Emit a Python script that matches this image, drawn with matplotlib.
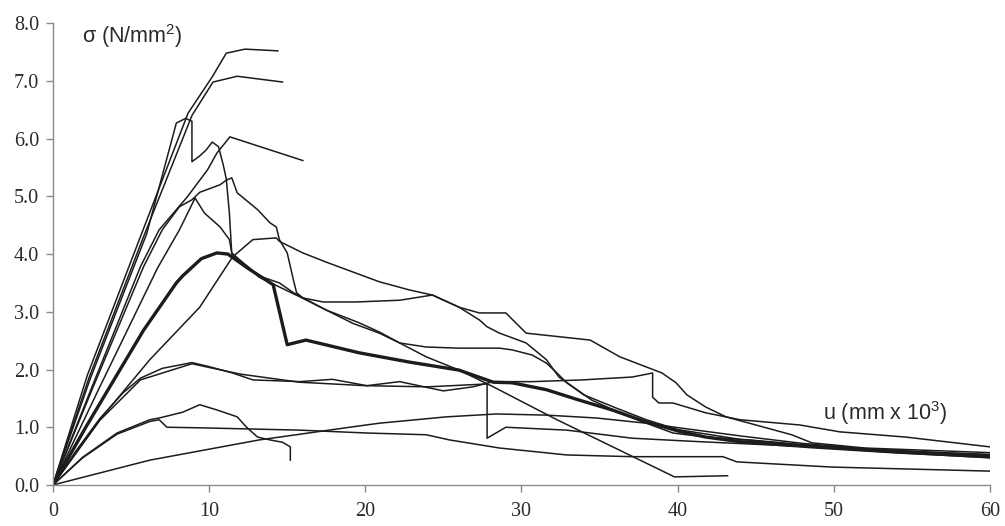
import matplotlib
matplotlib.use("Agg")
import matplotlib.pyplot as plt

plt.rcParams['mathtext.fontset'] = 'custom'
plt.rcParams['mathtext.rm'] = 'Liberation Sans'
plt.rcParams['mathtext.it'] = 'Liberation Sans'

# --- curves: u (mm x 10^3) vs sigma (N/mm^2) ---
# steep bundle, plateau at 7.5
a_u = [0, 2.2, 5.6, 8.65, 10.2, 11.1, 12.3, 14.4]
a_s = [0, 1.9, 4.3, 6.44, 7.07, 7.48, 7.55, 7.52]

# plateau at 7.0
b_u = [0, 2.3, 5.8, 8.9, 10.25, 11.8, 14.7]
b_s = [0, 1.85, 4.3, 6.4, 6.98, 7.08, 6.98]

# peak 6.3, drop, then runs along the thick curve and the 2.4 shelf
c_u = [0, 2.4, 6.0, 7.9, 8.5, 8.9, 8.9, 9.4, 9.8, 10.2, 10.6, 10.9, 11.1, 11.3,
       11.45, 12.5, 13.2, 14.5, 15.4, 17.5, 19.6, 20.9, 22.2, 23.9, 26.0, 28.6,
       29.4, 30.7, 31.6, 32.2, 32.9, 34.0, 36.0, 38.0, 40.0, 44.0, 48.0, 52.0,
       56.0, 60.0]
c_s = [0, 1.85, 4.35, 6.27, 6.35, 6.3, 5.6, 5.7, 5.8, 5.94, 5.86, 5.55, 5.3, 4.7,
       4.0, 3.78, 3.62, 3.5, 3.33, 3.03, 2.81, 2.65, 2.46, 2.39, 2.37, 2.37,
       2.34, 2.25, 2.11, 1.96, 1.77, 1.56, 1.34, 1.13, 0.96, 0.79, 0.69, 0.61,
       0.56, 0.51]

# peak 5.3, shelf at 3.2, jagged tail
d_u = [0, 2.5, 5.8, 7.0, 8.1, 8.9, 9.4, 10.7, 11.1, 11.45, 11.8, 13.1, 13.9, 14.3,
       14.5, 15.0, 15.4, 15.6, 16.0, 17.3, 19.4, 22.2, 24.3, 26.0, 27.3, 27.8,
       28.6, 30.3, 31.6, 32.4, 33.3, 34.5, 36.3, 38.0, 39.7, 41.8, 44.6, 48.0,
       52.0, 56.0, 60.0]
d_s = [0, 1.65, 3.78, 4.42, 4.82, 4.94, 5.07, 5.2, 5.28, 5.32, 5.06, 4.77, 4.54, 4.47,
       4.25, 4.02, 3.55, 3.33, 3.24, 3.17, 3.17, 3.2, 3.29, 3.08, 2.86, 2.74,
       2.63, 2.46, 2.17, 1.87, 1.7, 1.47, 1.25, 1.07, 0.9, 0.83, 0.78, 0.7,
       0.62, 0.57, 0.52]

# peak 5.0, long straight descent to 0.15
e_u = [0, 3.0, 6.7, 8.1, 9.1, 9.7, 10.7, 11.3, 11.45, 13.2, 15.8, 17.5, 19.2, 20.9,
       22.2, 23.9, 26.0, 28.2, 32.2, 36.0, 39.8, 43.2]
e_s = [0, 1.7, 3.76, 4.42, 4.97, 4.71, 4.47, 4.25, 4.02, 3.6, 3.26, 3.03, 2.8, 2.63,
       2.46, 2.22, 1.99, 1.7, 1.14, 0.64, 0.14, 0.16]

# peak 6.0, short straight softening
f_u = [0, 2.5, 5.6, 6.8, 8.6, 9.9, 10.5, 11.33, 16.0]
f_s = [0, 1.7, 3.78, 4.42, 4.99, 5.46, 5.75, 6.03, 5.62]

# peak 4.25 near u = 14
g_u = [0, 3.0, 6.2, 9.4, 11.5, 12.8, 14.3, 14.5, 16.0, 17.5, 18.8, 20.9, 22.8, 24.3,
       26.0, 27.3, 29.0, 30.3, 34.4, 36.3, 39.0, 39.9, 40.6, 41.8, 43.1, 45.0,
       47.3, 48.6, 52.0, 56.0, 60.0]
g_s = [0, 1.13, 2.17, 3.08, 3.95, 4.25, 4.28, 4.22, 4.02, 3.86, 3.73, 3.52, 3.38, 3.29,
       3.08, 2.98, 2.98, 2.63, 2.51, 2.22, 1.94, 1.77, 1.56, 1.35, 1.18, 1.04,
       0.87, 0.73, 0.64, 0.6, 0.56]

# thick (mean) curve
t_u = [0, 2.1, 4.3, 5.8, 7.9, 8.3, 9.5, 10.5, 11.2, 12.5, 14.1, 15.0, 16.2, 19.6,
       22.8, 26.0, 28.2, 29.4, 31.6, 33.7, 35.8, 38.0, 40.1, 41.8, 44.0, 48.6,
       54.0, 60.0]
t_s = [0, 1.0, 2.0, 2.68, 3.5, 3.62, 3.92, 4.02, 4.0, 3.75, 3.47, 2.43, 2.51, 2.29,
       2.13, 1.99, 1.78, 1.77, 1.65, 1.47, 1.3, 1.09, 0.93, 0.83, 0.75, 0.66,
       0.57, 0.49]

# peak 2.1, shelf at 1.8, top tail at the right
j_u = [0, 1.5, 3.0, 4.5, 5.6, 7.0, 8.9, 10.0, 11.5, 12.8, 15.8, 17.9, 20.1, 22.2,
       25.0, 26.9, 28.2, 30.7, 33.9, 37.1, 38.4, 38.4, 38.8, 39.7, 41.8, 44.0,
       47.8, 50.4, 54.6, 60.0]
j_s = [0, 0.6, 1.15, 1.6, 1.85, 2.02, 2.12, 2.05, 1.94, 1.82, 1.79, 1.83, 1.72, 1.79,
       1.63, 1.7, 1.79, 1.79, 1.82, 1.87, 1.94, 1.52, 1.42, 1.42, 1.25, 1.13,
       1.04, 0.92, 0.83, 0.66]

# shelf at 1.75, sudden drop at u = 27.8
n_u = [0, 3.0, 5.6, 8.9, 12.0, 15.8, 20.0, 24.0, 27.8, 27.8, 29.0, 32.9, 37.1, 41.4,
       48.6, 54.0, 60.0]
n_s = [0, 1.12, 1.82, 2.1, 1.92, 1.78, 1.72, 1.7, 1.75, 0.81, 1.0, 0.95, 0.81, 0.75,
       0.66, 0.56, 0.47]

# peak 1.4, ends at u = 15
k_u = [0, 1.9, 4.1, 6.2, 6.8, 8.3, 9.4, 10.5, 11.8, 12.4, 13.1, 13.9, 14.7, 15.2, 15.2]
k_s = [0, 0.48, 0.9, 1.13, 1.16, 1.26, 1.39, 1.3, 1.18, 1.0, 0.83, 0.78, 0.74, 0.66, 0.43]

# peak 1.1, lowest tail
l_u = [0, 1.9, 4.1, 6.2, 6.8, 7.3, 9.4, 12.6, 15.8, 20.1, 23.9, 25.4, 28.6, 32.9,
       37.1, 42.9, 43.8, 49.9, 60.0]
l_s = [0, 0.47, 0.88, 1.1, 1.13, 1.0, 0.99, 0.97, 0.95, 0.9, 0.87, 0.78, 0.64, 0.52,
       0.49, 0.49, 0.4, 0.31, 0.24]

# soft arc, peak 1.25 near u = 28
m_u = [0, 6.2, 13.2, 19.0, 20.9, 25.2, 28.4, 31.6, 34.8, 38.0, 40.1, 44.0, 48.0,
       52.0, 56.0, 60.0]
m_s = [0, 0.43, 0.78, 1.0, 1.07, 1.18, 1.23, 1.21, 1.16, 1.07, 0.99, 0.85, 0.72,
       0.63, 0.57, 0.53]

thin_curves = [(a_u, a_s), (b_u, b_s), (c_u, c_s), (d_u, d_s), (e_u, e_s),
               (f_u, f_s), (g_u, g_s), (j_u, j_s), (n_u, n_s), (k_u, k_s),
               (l_u, l_s), (m_u, m_s)]

x_ticks = [0, 10, 20, 30, 40, 50, 60]
y_ticks = [0, 1, 2, 3, 4, 5, 6, 7, 8]

fig = plt.figure(figsize=(10.05, 5.26), dpi=100)
ax = fig.add_axes([0.0527, 0.078, 0.9323, 0.878])

ink = '#1c1c1c'
for u, s in thin_curves:
    ax.plot(u, s, color=ink, linewidth=1.1, solid_joinstyle='round')
ax.plot(t_u, t_s, color=ink, linewidth=2.4, solid_joinstyle='round')

ax.set_xlim(0, 60)
ax.set_ylim(0, 8)
ax.set_xticks(x_ticks)
ax.set_yticks(y_ticks)
ax.set_xticklabels([str(v) for v in x_ticks])
ax.set_yticklabels([f"{v:.1f}" for v in y_ticks])

for side in ['top', 'right']:
    ax.spines[side].set_visible(False)
for side in ['left', 'bottom']:
    ax.spines[side].set_color('#8a8a8a')
    ax.spines[side].set_linewidth(1.0)

ax.tick_params(axis='both', colors='#8a8a8a', length=5, width=1.0, direction='out')
ax.tick_params(axis='x', pad=7)
ax.tick_params(axis='y', pad=5)
for lab in ax.get_xticklabels() + ax.get_yticklabels():
    lab.set_fontfamily('Liberation Serif')
    lab.set_fontsize(14.5)
    lab.set_color('#2a2a2a')

ax.text(1.85, 7.78, r"σ (N/mm$^2$)", fontsize=15.5, family='Liberation Sans',
        color='#2a2a2a', ha='left', va='center')
ax.text(49.3, 1.25, r"u (mm x 10$^3$)", fontsize=15.5, family='Liberation Sans',
        color='#2a2a2a', ha='left', va='center')

fig.savefig('out.png', dpi=100, facecolor='white')
